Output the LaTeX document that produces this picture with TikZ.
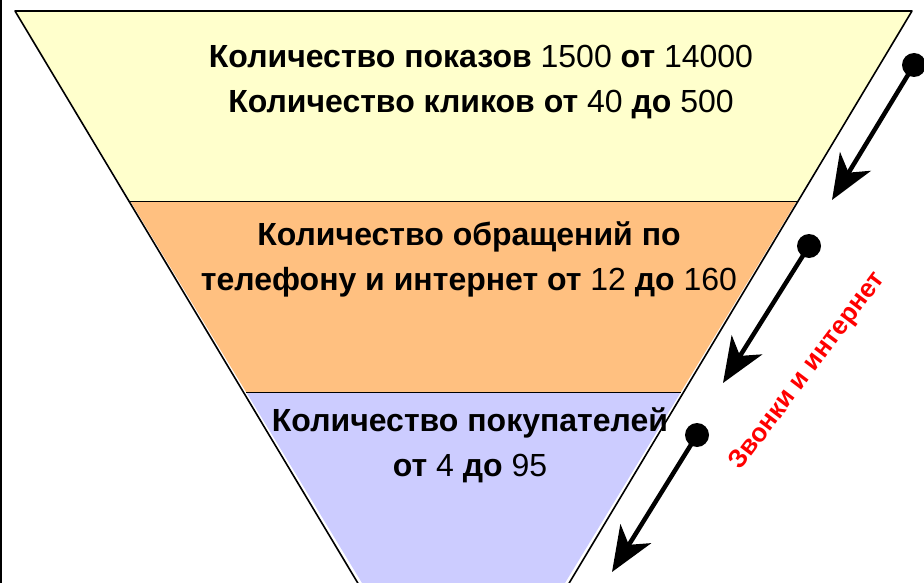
\documentclass[tikz,border=0pt]{standalone}
\usepackage{fontspec}
\setmainfont{Liberation Sans}
\usepackage{xcolor}
\usepackage{tikz}
\usetikzlibrary{arrows.meta}
\definecolor{funnelyellow}{RGB}{255,255,204}
\definecolor{funnelorange}{RGB}{255,192,128}
\definecolor{funnelblue}{RGB}{204,204,255}
\definecolor{callred}{RGB}{255,0,0}

\begin{document}
\begin{tikzpicture}[x=1pt,y=-1pt,line join=round]
\tikzstyle{band}=[draw=black,line width=1pt]
\tikzstyle{lbl}=[align=center,inner sep=0pt,font=\fontsize{32}{45}\selectfont]
\tikzstyle{dot}=[circle,fill=black,inner sep=0pt,minimum size=24pt]
\tikzstyle{flow}=[line width=4.5pt,-{Stealth[length=45pt,width=36pt,inset=13pt]}]
\clip (0,0) rectangle (924,583);
% funnel bands
\fill[funnelyellow] (15,11) -- (912,11) -- (796.7,201) -- (130.3,201) -- cycle;
\fill[funnelorange] (130.3,201) -- (796.7,201) -- (680.9,392) -- (246.1,392) -- cycle;
\fill[funnelblue] (246.1,392) -- (680.9,392) -- (565,583) -- (362,583) -- cycle;
\draw[band] (130.3,201) -- (796.7,201);
\draw[band] (246.1,392) -- (680.9,392);
\draw[line width=1.6pt] (362,590) -- (15,11) -- (912,11) -- (565,590);
\draw[line width=2pt] (1,0) -- (1,583);
% labels
\node[lbl] (shows) at (481,82) {\textbf{Количество показов} 1500 \textbf{от} 14000\\\textbf{Количество кликов от} 40 \textbf{до} 500};
\node[lbl] (calls) at (469,259) {\textbf{Количество обращений по}\\\textbf{телефону и интернет от} 12 \textbf{до} 160};
\node[lbl] (buyers) at (470,445) {\textbf{Количество покупателей}\\\textbf{от} 4 \textbf{до} 95};
\node[rotate=53,text=callred,font=\fontsize{26}{30}\selectfont\bfseries] (channel) at (808,371) {Звонки и интернет};
% arrows
\node[dot] (d1) at (914,65) {};
\node[dot] (d2) at (809,246) {};
\node[dot] (d3) at (697,435) {};
\coordinate (t1) at (832,200);
\coordinate (t2) at (723,383);
\coordinate (t3) at (612,572);
\draw[flow] (d1.center) -- (t1);
\draw[flow] (d2.center) -- (t2);
\draw[flow] (d3.center) -- (t3);
\end{tikzpicture}
\end{document}
